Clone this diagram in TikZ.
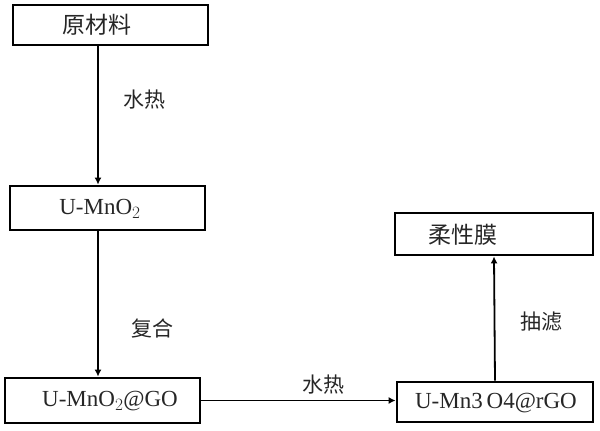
\documentclass[tikz,border=0pt]{standalone}
\usepackage{fontspec}
\setmainfont{Liberation Serif}
\newfontfamily\cjk{Noto Sans CJK SC}
\usetikzlibrary{arrows.meta}
\begin{document}
\begin{tikzpicture}[x=1pt,y=-1pt,
		box/.style={draw, line width=2.8pt, minimum width=195pt, minimum height=42pt, inner sep=0pt},
		txt/.style={font=\fontsize{23}{23}\selectfont, inner sep=0pt, text=black!85},
		zh/.style={txt, font=\cjk\fontsize{21}{21}\selectfont},
		flow/.style={line width=1.8pt, -{Latex[length=7pt,width=7pt]}}]
		\useasboundingbox (0,0) rectangle (600,431);
		\def \hor{ 1 };
		\def \ver{ 1 };
		% boxes
		\node[box, minimum height=40pt] (b1) at (110.5*\hor,25*\ver) {};
		\node[box, minimum height=44pt] (b2) at (107.5*\hor,208*\ver) {};
		\node[box, minimum height=45pt] (b3) at (102.5*\hor,400.5*\ver) {};
		\node[box, minimum width=196pt, minimum height=40pt] (b4) at (495*\hor,402*\ver) {};
		\node[box, minimum width=198pt, minimum height=42pt] (b5) at (494*\hor,234*\ver) {};
		% texts
		\node[zh, font=\cjk\fontsize{23}{23}\selectfont] (t1) at (97*\hor,25*\ver) {原材料};
		\node[txt] (t2) at (100*\hor,209*\ver) {U-MnO$_2$};
		\node[txt] (t3) at (110*\hor,401*\ver) {U-MnO$_2$@GO};
		\node[txt] (t4) at (496*\hor,403*\ver) {U-Mn3\,O4@rGO};
		\node[zh, font=\cjk\fontsize{23}{23}\selectfont] (t5) at (463*\hor,235*\ver) {柔性膜};
		% arrows
		\coordinate (c1) at (98*\hor,0*\ver);
		\draw[flow] (b1.south -| c1) -- (b2.north -| c1);
		\draw[flow] (b2.south -| c1) -- (b3.north -| c1);
		\draw[flow] (b3.east) -- (b4.west |- b3.east);
		\draw[flow] (b4.north) -- (b5.south);
		% labels
		\node[zh] (l1) at (144*\hor,100*\ver) {水热};
		\node[zh] (l2) at (152*\hor,328*\ver) {复合};
		\node[zh] (l3) at (323*\hor,385*\ver) {水热};
		\node[zh] (l4) at (541*\hor,322*\ver) {抽滤};
	\end{tikzpicture}
\end{document}
